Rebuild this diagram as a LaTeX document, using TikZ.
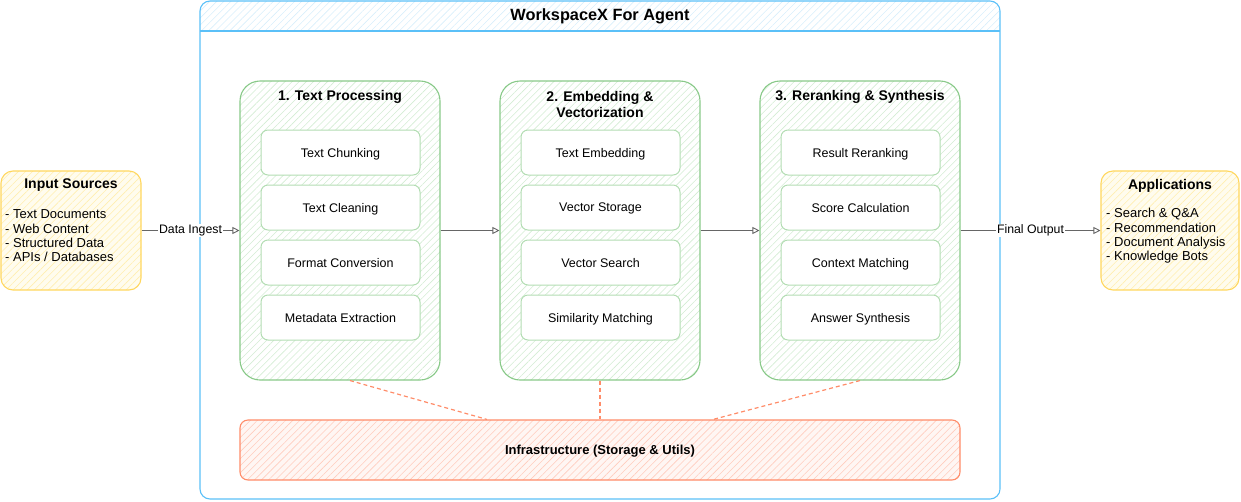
\documentclass[tikz,border=0pt]{standalone}
\usepackage{fontspec}
\setmainfont{Liberation Sans}
\usetikzlibrary{patterns.meta,arrows.meta,calc}
\definecolor{bluestroke}{HTML}{5BC0F8}
\definecolor{bluehatch}{HTML}{D8EEFB}
\definecolor{greenstroke}{HTML}{88C988}
\definecolor{greenhatch}{HTML}{D3ECD3}
\definecolor{innerstroke}{HTML}{B3DDB3}
\definecolor{yellowstroke}{HTML}{FFD75E}
\definecolor{yellowhatch}{HTML}{FFEFB0}
\definecolor{yellowbg}{HTML}{FFFCEE}
\definecolor{redstroke}{HTML}{FF8C69}
\definecolor{redhatch}{HTML}{FFCDBE}
\definecolor{redbg}{HTML}{FFF6F3}
\definecolor{arrowgray}{HTML}{666666}
\tikzset{
  hatchlines/.style={pattern={Lines[angle=45,distance=5pt,line width=0.6pt]}, pattern color=#1},
  grp/.style={draw=greenstroke, line width=1.1pt, rounded corners=20pt, hatchlines=greenhatch,
    minimum width=200pt, minimum height=299pt, inner sep=0pt},
  inner/.style={draw=innerstroke, line width=1pt, fill=white, rounded corners=7pt,
    minimum width=159pt, minimum height=45pt, inner sep=0pt, text depth=0pt,
    font=\fontsize{12.5}{15}\selectfont},
  srcbox/.style={draw=yellowstroke, line width=1.1pt, rounded corners=12pt,
    preaction={fill=yellowbg}, hatchlines=yellowhatch, minimum height=119pt, inner sep=0pt},
  infra/.style={draw=redstroke, line width=1.1pt, rounded corners=8pt,
    preaction={fill=redbg}, hatchlines=redhatch, minimum width=720pt, minimum height=60pt,
    inner sep=0pt, text depth=0pt, font=\bfseries\fontsize{13}{15}\selectfont},
  ttl/.style={font=\bfseries\fontsize{14}{16.5}\selectfont, align=center, inner sep=0pt},
  lst/.style={font=\fontsize{13}{14.3}\selectfont, align=left, anchor=west, inner sep=0pt},
  arr/.style={draw=arrowgray, line width=0.9pt, -{Triangle[open,length=7pt,width=7pt]}},
  lbl/.style={fill=white, inner sep=1pt, font=\fontsize{12.3}{14}\selectfont},
  dsh/.style={draw=redstroke, line width=1.2pt, dash pattern=on 4pt off 3pt},
}
\begin{document}
\begin{tikzpicture}[x=1pt,y=-1pt]
\useasboundingbox (0,0) rectangle (1241,501);
% outer container
\begin{scope}
  \clip (200,1) rectangle (1000,31);
  \path[hatchlines=bluehatch, rounded corners=10pt] (200,1) rectangle (1000,499);
\end{scope}
\node[draw=bluestroke, line width=1.1pt, rounded corners=10pt, minimum width=800pt, minimum height=498pt, inner sep=0pt] (outer) at (600,250) {};
\coordinate (hl) at (200,31);
\coordinate (hr) at (1000,31);
\draw[bluestroke, line width=1.1pt] (hl) -- (hr);
\node[font=\bfseries\fontsize{16.3}{19}\selectfont, inner sep=0pt] (wtitle) at (600,16.5) {WorkspaceX For Agent};

% groups
\node[grp] (g1) at (340,230.5) {};
\node[grp] (g2) at (600,230.5) {};
\node[grp] (g3) at (860,230.5) {};
\node[ttl] (g1t) at (340,96.5) {1. Text Processing};
\node[ttl] (g2t) at (600,104.5) {2. Embedding \&\\Vectorization};
\node[ttl] (g3t) at (860,96.5) {3. Reranking \& Synthesis};

\node[inner] (a1) at (340.5,152.5) {Text Chunking};
\node[inner] (a2) at (340.5,207.5) {Text Cleaning};
\node[inner] (a3) at (340.5,262.5) {Format Conversion};
\node[inner] (a4) at (340.5,317.5) {Metadata Extraction};

\node[inner] (b1) at (600.5,152.5) {Text Embedding};
\node[inner] (b2) at (600.5,207.5) {Vector Storage};
\node[inner] (b3) at (600.5,262.5) {Vector Search};
\node[inner] (b4) at (600.5,317.5) {Similarity Matching};

\node[inner] (c1) at (860.5,152.5) {Result Reranking};
\node[inner] (c2) at (860.5,207.5) {Score Calculation};
\node[inner] (c3) at (860.5,262.5) {Context Matching};
\node[inner] (c4) at (860.5,317.5) {Answer Synthesis};

% infrastructure
\node[infra] (infra) at (600,450) {Infrastructure (Storage \& Utils)};

% sources / applications
\node[srcbox, minimum width=140pt] (inp) at (71,230.5) {};
\node[ttl] (inpt) at (71,185.5) {Input Sources};
\node[lst] (inpl) at (5,236) {- Text Documents\\- Web Content\\- Structured Data\\- APIs / Databases};

\node[srcbox, minimum width=138pt] (app) at (1170,230.5) {};
\node[ttl] (appt) at (1170,185.5) {Applications};
\node[lst] (appl) at (1106,236) {- Search \& Q\&A\\- Recommendation\\- Document Analysis\\- Knowledge Bots};

% arrows
\draw[arr] (inp.east) -- node[lbl] {Data Ingest} (g1.west);
\draw[arr] (g1.east) -- (g2.west);
\draw[arr] (g2.east) -- (g3.west);
\draw[arr] (g3.east) -- node[lbl] {Final Output} (app.west);

% dashed links
\draw[dsh] ([xshift=10pt]g1.south) -- ([xshift=-113pt]infra.north);
\draw[dsh] (g2.south) -- (infra.north);
\draw[dsh] (g3.south) -- ([xshift=113pt]infra.north);
\end{tikzpicture}
\end{document}
